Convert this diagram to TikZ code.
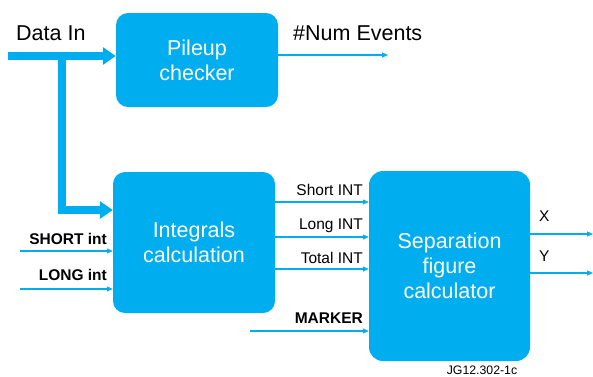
\documentclass[tikz,border=0pt]{standalone}
\usepackage{fontspec}
\setmainfont{Liberation Sans}
\usetikzlibrary{arrows.meta,calc}
\definecolor{boxblue}{RGB}{0,174,239}
\tikzset{
  block/.style={fill=boxblue, draw=none, rounded corners=12pt, text=white,
    align=center, font=\fontsize{21.5}{25}\selectfont, inner sep=0pt},
  bus/.style={draw=boxblue, line width=7.5pt,
    -{Triangle[length=13pt,width=17pt]}},
  sig/.style={draw=boxblue, line width=1.1pt,
    -{Triangle[length=6pt,width=5pt]}},
  lbl/.style={inner sep=0pt, font=\fontsize{15.5}{18}\selectfont},
  blbl/.style={lbl, font=\fontsize{15.5}{18}\selectfont\bfseries},
}
\begin{document}
\begin{tikzpicture}[x=1pt,y=-1pt]
\useasboundingbox (0,0) rectangle (593,376);

% processing blocks
\node[block, minimum width=162pt, minimum height=94pt] (pile) at (197,60) {Pileup\\checker};
\node[block, minimum width=162pt, minimum height=141pt] (integ) at (194,242.5) {Integrals\\calculation};
\node[block, minimum width=161pt, minimum height=190pt, rounded corners=14pt] (sep) at (449.5,266) {Separation\\figure\\calculator};

% data input bus and its branch
\coordinate (din) at (8,56);
\coordinate (branch) at (62,56);
\coordinate (elbow) at (62,210);
\node[anchor=base west, inner sep=0pt, font=\fontsize{21.5}{25}\selectfont] (dinlbl) at (16,40) {Data In};
\draw[bus] (din) -- (din -| pile.west);
\draw[draw=boxblue, line width=7.5pt] (branch) -- ($(elbow)+(0,3.75)$);
\draw[bus] ($(elbow)+(-3.75,0)$) -- (elbow -| integ.west);

% event counter output
\node[anchor=base west, inner sep=0pt, font=\fontsize{21.5}{25}\selectfont] (numlbl) at (293,40) {\#Num Events};
\coordinate (numend) at (388,55);
\draw[sig] (numend -| pile.east) -- (numend);

% integral inputs
\coordinate (shortin) at (20,251);
\coordinate (longin) at (20,289);
\draw[sig] (shortin) -- (shortin -| integ.west);
\draw[sig] (longin) -- (longin -| integ.west);
\node[blbl, anchor=base east] (shortlbl) at (107,244) {SHORT int};
\node[blbl, anchor=base east] (longlbl) at (107,280) {LONG int};

% integrals passed on to the separation stage
\coordinate (sint) at (0,202);
\coordinate (lint) at (0,237);
\coordinate (tint) at (0,269);
\draw[sig] (sint -| integ.east) -- (sint -| sep.west);
\draw[sig] (lint -| integ.east) -- (lint -| sep.west);
\draw[sig] (tint -| integ.east) -- (tint -| sep.west);
\node[lbl, anchor=base east] (sintlbl) at (363,195) {Short INT};
\node[lbl, anchor=base east] (lintlbl) at (363,229) {Long INT};
\node[lbl, anchor=base east] (tintlbl) at (363,263) {Total INT};

% marker input
\coordinate (markin) at (250,331);
\draw[sig] (markin) -- (markin -| sep.west);
\node[blbl, anchor=base east] (marklbl) at (363,323) {MARKER};

% outputs
\coordinate (xout) at (593,234);
\coordinate (yout) at (593,273);
\draw[sig] (xout -| sep.east) -- (xout);
\draw[sig] (yout -| sep.east) -- (yout);
\node[lbl, anchor=base west] (xlbl) at (539,221) {X};
\node[lbl, anchor=base west] (ylbl) at (539,261) {Y};

% figure reference
\node[anchor=base, inner sep=0pt, font=\fontsize{12.3}{14}\selectfont] (ref) at (482,374) {JG12.302-1c};
\end{tikzpicture}
\end{document}
